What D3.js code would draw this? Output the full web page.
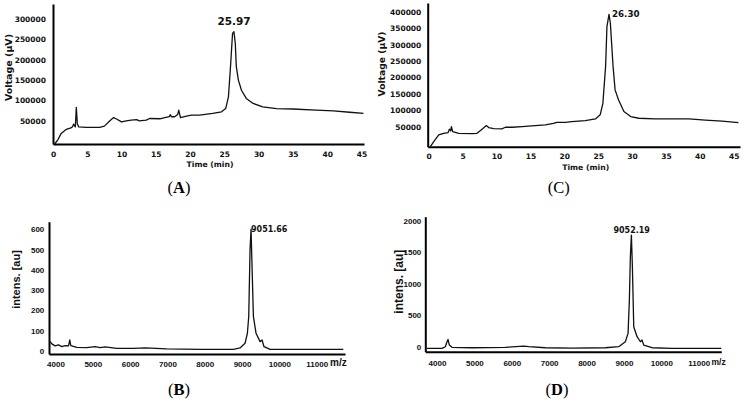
<!DOCTYPE html>
<html>
<head>
<meta charset="utf-8">
<script src="https://cdn.jsdelivr.net/npm/d3@7"></script>
<style>
  body { margin: 0; background: #fff; }
  svg { display: block; }
  .axis path { stroke: #000; stroke-width: 2; }
  .axis line { display: none; }
  .hplc text { font-family: "DejaVu Sans", Verdana, sans-serif; font-weight: bold; font-size: 7.5px; fill: #111; }
  .ms text { font-family: "Liberation Sans", Arial, sans-serif; font-weight: bold; font-size: 8px; fill: #111; }
  .trace { fill: none; stroke: #111; stroke-width: 1.3; stroke-linejoin: round; }
  .letter { font-family: "Liberation Serif", "Times New Roman", serif; font-size: 16.5px; fill: #000; }
</style>
</head>
<body>
<div id="chart"></div>
<script>
// Width and height of page
var width = 744;
var height = 401;

// HPLC trace A (time in min, voltage in µV)
var timeA = [0.24, 0.73, 1.2, 1.95, 2.7, 2.9, 3.0, 3.26, 3.4, 3.55, 3.75, 4.86, 6.8, 7.5, 8.3, 8.85, 9.2, 10.0, 10.7, 11.4,
  12.2, 12.6, 13.6, 14.1, 15.6, 16.3, 17.0, 17.1, 17.3, 17.75, 18.2, 18.35, 18.6, 19.45, 20.2, 21.4, 23.3, 24.6, 25.2, 25.6,
  25.9, 26.2, 26.4, 26.6, 26.75, 27.05, 27.5, 28.2, 29.2, 30.6, 32.6, 35, 38.4, 40.9, 43.3, 45.3];
var voltA = [-7000, 4000, 19000, 29000, 33000, 37000, 42000, 35000, 83000, 43000, 35000, 34000, 34000, 37000, 50000, 58000, 55000, 47500, 50000, 51600,
  53000, 50000, 51600, 55700, 55000, 58000, 60000, 65000, 60000, 60000, 65600, 76000, 58000, 61500, 64000, 64000, 68000, 72000, 80000, 109000,
  183000, 265000, 269000, 240000, 183000, 150000, 125000, 105000, 92600, 84000, 80000, 79000, 76000, 74600, 71000, 68000];

// HPLC trace C
var timeC = [0.25, 0.74, 1.48, 2.2, 2.85, 3.05, 3.25, 3.35, 3.54, 4.43, 6.4, 7.13, 7.87, 8.5, 8.85, 9.6, 10.8, 11.3, 12.3, 13.8,
  15.2, 17.2, 18.4, 18.9, 20.2, 21.1, 23.1, 24.6, 25.3, 25.7, 26.1, 26.3, 26.6, 26.8, 27.2, 27.5, 28.0, 28.8, 29.8, 31,
  33.4, 38.4, 40.8, 43.3, 45.7];
var voltC = [-11000, 4000, 24500, 29600, 31600, 42000, 36700, 50000, 34700, 29600, 28600, 29600, 42000, 53000, 47000, 44000, 43000, 48000, 48000, 50000,
  52000, 55000, 60000, 63000, 63000, 65000, 68000, 73500, 86000, 121000, 234000, 356000, 392000, 366000, 234000, 162000, 132000, 96000, 80600, 75500,
  73500, 73500, 70000, 67000, 62000];

// MALDI spectrum B (m/z, intensity)
var mzB = [3857, 3902, 3991, 4080, 4170, 4260, 4348, 4384, 4410, 4571, 4840, 5062, 5196, 5330, 5643, 6089, 6402, 6982, 7875, 8768,
  8946, 9080, 9143, 9179, 9214, 9241, 9268, 9304, 9375, 9482, 9536, 9589, 9750, 10107, 11714];
var intB = [46, 35, 25, 30, 21, 26, 25, 54, 26, 18, 16, 21, 16, 20, 13, 13, 15, 10, 8, 8,
  15, 38, 87, 170, 500, 600, 414, 170, 87, 46, 54, 21, 8, 8, 8];

// MALDI spectrum D
var mzD = [3732, 4134, 4223, 4268, 4294, 4330, 4401, 4936, 5828, 6318, 6452, 6898, 7611, 8503, 8860, 9038, 9110, 9145, 9172, 9199,
  9226, 9262, 9351, 9440, 9484, 9529, 9752, 10287, 11606];
var intD = [-26, -26, 0, 79, 116, 26, -10, -16, -10, 10, 0, -16, -21, -16, 0, 79, 212, 741, 1429, 1772,
  1270, 317, 159, 79, 106, 26, -16, -26, -26];

// tick labels
var timeTicks = [0, 5, 10, 15, 20, 25, 30, 35, 40, 45];
var voltTicksA = [50000, 100000, 150000, 200000, 250000, 300000];
var voltTicksC = [50000, 100000, 150000, 200000, 250000, 300000, 350000, 400000];
var mzTicks = [4000, 5000, 6000, 7000, 8000, 9000, 10000, 11000];
var intTicksB = [0, 100, 200, 300, 400, 500, 600];
var intTicksD = [0, 500, 1000, 1500, 2000];

var peakLabels = ["25.97", "26.30", "9051.66", "9052.19"];
var panelLetters = ["A", "C", "B", "D"];

var svg = d3.select("#chart")
  .append("svg")
  .attr("width", width)
  .attr("height", height);

var line = d3.line();

// one panel: scales, axes, trace
function panel(o) {
  var g = svg.append("g").attr("class", o.cls);
  var x = d3.scaleLinear().domain(o.xDomain).range(o.xRange);
  var y = d3.scaleLinear().domain(o.yDomain).range(o.yRange);

  g.append("g")
    .attr("class", "axis")
    .attr("transform", "translate(0," + o.yRange[0] + ")")
    .call(d3.axisBottom(x).tickValues(o.xTicks).tickSize(0).tickPadding(o.xPad).tickFormat(d3.format("d")));
  g.append("g")
    .attr("class", "axis")
    .attr("transform", "translate(" + o.xRange[0] + ",0)")
    .call(d3.axisLeft(y).tickValues(o.yTicks).tickSize(0).tickPadding(o.yPad).tickFormat(d3.format("d")));

  var pts = o.xs.map(function(d, i) { return [x(d), y(o.ys[i])]; });
  g.append("path")
    .attr("class", "trace")
    .attr("d", line(pts));
  return g;
}

var gA = panel({
  cls: "hplc", xs: timeA, ys: voltA,
  xDomain: [0, 45.38], xRange: [53, 364],
  yDomain: [-7000, 337000], yRange: [144, 4],
  xTicks: timeTicks, yTicks: voltTicksA, xPad: 8, yPad: 7
});
var gC = panel({
  cls: "hplc", xs: timeC, ys: voltC,
  xDomain: [-0.15, 45.93], xRange: [427.7, 740],
  yDomain: [-11300, 427000], yRange: [146.7, 3],
  xTicks: timeTicks, yTicks: voltTicksC, xPad: 6.5, yPad: 6.4
});
var gB = panel({
  cls: "ms", xs: mzB, ys: intB,
  xDomain: [3826, 11759], xRange: [49, 345],
  yDomain: [-15, 637], yRange: [354, 221.7],
  xTicks: mzTicks, yTicks: intTicksB, xPad: 7, yPad: 4.7
});
var gD = panel({
  cls: "ms", xs: mzD, ys: intD,
  xDomain: [3687, 11604], xRange: [425.3, 721.3],
  yDomain: [-79, 2063], yRange: [351.7, 216.7],
  xTicks: mzTicks, yTicks: intTicksD, xPad: 8.5, yPad: 4
});

// axis titles
function vtitle(g, txt, cx, cy, size) {
  g.append("text")
    .attr("transform", "translate(" + cx + "," + cy + ") rotate(-90)")
    .attr("text-anchor", "middle")
    .attr("dy", "0.35em")
    .style("font-size", size + "px")
    .text(txt);
}
vtitle(gA, "Voltage (µV)", 8.5, 67.5, 9.5);
vtitle(gC, "Voltage (µV)", 382, 64, 9.2);
vtitle(gB, "intens. [au]", 15.7, 279.5, 11);
vtitle(gD, "intens. [au]", 398.3, 281.7, 12);

gA.append("text").attr("x", 210).attr("y", 167).attr("text-anchor", "middle").style("font-size", "7.7px").text("Time (min)");
gC.append("text").attr("x", 585.7).attr("y", 170).attr("text-anchor", "middle").style("font-size", "7.7px").text("Time (min)");
gB.append("text").attr("x", 330).attr("y", 366).style("font-size", "10px").text("m/z");
gD.append("text").attr("x", 711.5).attr("y", 365).style("font-size", "8.5px").text("m/z");

// peak labels
var peakFont = "'DejaVu Sans', Verdana, sans-serif";
function peak(g, txt, px, py, anchor, size) {
  g.append("text")
    .attr("x", px).attr("y", py)
    .attr("text-anchor", anchor)
    .style("font-family", peakFont)
    .style("font-weight", "bold")
    .style("font-size", size + "px")
    .text(txt);
}
peak(gA, peakLabels[0], 234, 25, "middle", 10.5);
peak(gC, peakLabels[1], 612, 16.7, "start", 8.7);
peak(gB, peakLabels[2], 251, 232, "start", 8);
peak(gD, peakLabels[3], 631.7, 232.7, "middle", 8);

// panel letters (A) (B) (C) (D)
var letterPos = [[179, 193, true], [558.7, 193.3, false], [179, 395, true], [557, 395, true]];
panelLetters.forEach(function(l, i) {
  var p = letterPos[i];
  var t = svg.append("text")
    .attr("class", "letter")
    .attr("x", p[0]).attr("y", p[1])
    .attr("text-anchor", "middle");
  t.append("tspan").text("(");
  t.append("tspan").style("font-weight", p[2] ? "bold" : "normal").text(l);
  t.append("tspan").text(")");
});
</script>
</body>
</html>
